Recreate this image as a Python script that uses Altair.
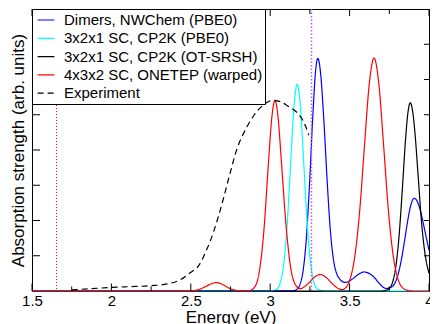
import altair as alt
import pandas as pd

# ---------------- data ----------------
series_names = [
    "Dimers, NWChem (PBE0)",
    "3x2x1 SC, CP2K (PBE0)",
    "3x2x1 SC, CP2K (OT-SRSH)",
    "4x3x2 SC, ONETEP (warped)",
    "Experiment",
]
series_colors = ["#0000ff", "#00ffff", "#000000", "#ff0000", "#000000"]
series_dashes = [[1, 0], [1, 0], [1, 0], [1, 0], [6, 4]]

dimers_x = [1.50, 3.138, 3.168, 3.188, 3.208, 3.228, 3.248, 3.268, 3.288, 3.300, 3.318,
            3.338, 3.358, 3.378, 3.398, 3.418, 3.438, 3.458, 3.475, 3.505, 3.535, 3.565,
            3.592, 3.622, 3.652, 3.682, 3.705, 3.730, 3.750, 3.767, 3.787, 3.807, 3.827,
            3.847, 3.867, 3.887, 3.907, 3.932, 3.952, 3.972, 4.0]
dimers_y = [0, 0.004, 0.047, 0.19, 0.60, 1.52, 3.07, 4.94, 6.34, 6.60, 6.15,
            4.83, 3.18, 1.76, 0.90, 0.50, 0.34, 0.26, 0.245, 0.30, 0.40, 0.50,
            0.54, 0.50, 0.40, 0.24, 0.13, 0.07, 0.09, 0.12, 0.24, 0.50, 0.91,
            1.45, 2.02, 2.46, 2.63, 2.48, 2.17, 1.75, 1.15]

pbe0_x = [1.50, 2.99, 3.039, 3.069, 3.089, 3.109, 3.129, 3.149, 3.170, 3.189, 3.209,
          3.229, 3.249, 3.269, 3.299, 3.34, 4.0]
pbe0_y = [0, 0, 0.045, 0.33, 0.91, 2.04, 3.65, 5.18, 5.87, 5.30, 3.82,
          2.19, 1.00, 0.36, 0.05, 0, 0]

srsh_x = [1.50, 3.70, 3.722, 3.752, 3.772, 3.792, 3.812, 3.832, 3.852, 3.867, 3.882,
          3.897, 3.912, 3.932, 3.952, 3.972, 4.0]
srsh_y = [0, 0, 0.01, 0.08, 0.27, 0.72, 1.59, 2.88, 4.28, 5.05, 5.34,
          5.10, 4.46, 3.24, 2.0, 1.15, 0.5]

onetep_x = [1.50, 2.44, 2.49, 2.54, 2.59, 2.627, 2.66, 2.694, 2.744, 2.794, 2.84, 2.87,
            2.90, 2.93, 2.96, 2.99, 3.01, 3.03, 3.05, 3.07, 3.10, 3.13, 3.16, 3.19,
            3.218, 3.248, 3.278, 3.315, 3.348, 3.388, 3.425, 3.455, 3.485, 3.504, 3.534,
            3.564, 3.594, 3.624, 3.654, 3.684, 3.714, 3.744, 3.774, 3.804, 3.834, 3.864,
            3.90, 4.0]
onetep_y = [0, 0, 0.003, 0.026, 0.117, 0.20, 0.24, 0.198, 0.075, 0.012, 0.002, 0.013,
            0.10, 0.51, 1.70, 3.70, 4.91, 5.40, 4.91, 3.70, 1.85, 0.63, 0.17, 0.065,
            0.13, 0.25, 0.39, 0.47, 0.40, 0.22, 0.08, 0.04, 0.15, 0.35, 1.02,
            2.30, 4.14, 5.88, 6.61, 5.88, 4.14, 2.30, 1.02, 0.35, 0.09, 0.02,
            0, 0]

exp_x = [1.75, 1.85, 2.0, 2.1, 2.25, 2.35, 2.43, 2.50, 2.55, 2.595, 2.645, 2.695,
         2.745, 2.792, 2.847, 2.90, 2.95, 3.02, 3.07, 3.11, 3.16, 3.198, 3.225, 3.243]
exp_y = [0.03, 0.06, 0.10, 0.12, 0.15, 0.20, 0.31, 0.53, 0.72, 1.12, 1.70, 2.45,
         3.30, 4.05, 4.60, 5.00, 5.25, 5.41, 5.36, 5.25, 5.10, 4.90, 4.65, 4.42]

vline_red_x = [1.654]
vline_purple_x = [3.26]

x_major_ticks = [1.5, 2.0, 2.5, 3.0, 3.5, 4.0]
x_minor_ticks = [1.75, 2.25, 2.75, 3.25, 3.75]
y_ticks = [1, 2, 3, 4, 5, 6, 7]

# ---------------- build tables ----------------
series_xy = [(dimers_x, dimers_y), (pbe0_x, pbe0_y), (srsh_x, srsh_y),
             (onetep_x, onetep_y), (exp_x, exp_y)]
frames = []
for name, (xs, ys) in zip(series_names, series_xy):
    frames.append(pd.DataFrame({"series": name, "energy": xs, "absorption": ys}))
curve_df = pd.concat(frames, ignore_index=True)

W, H = 397, 282
FONT = "Liberation Sans"

legend = alt.Legend(
    orient="none", legendX=0, legendY=0, title=None,
    symbolType="stroke", symbolSize=280, symbolStrokeWidth=1.2,
    labelFontSize=15, labelFont=FONT, labelColor="black", labelLimit=400,
    labelOffset=9, strokeColor="black", fillColor="white",
    padding=2, symbolOffset=3, rowPadding=1.3,
)

x_enc = alt.X("energy:Q",
              scale=alt.Scale(domain=[1.5, 4], nice=False, zero=False),
              axis=alt.Axis(values=x_major_ticks, format="~g", tickSize=0, domain=False,
                            grid=False, labelFontSize=15, labelFont=FONT,
                            labelColor="black", labelPadding=2.5, labelFlush=False,
                            title="Energy (eV)", titleFontSize=17, titleFont=FONT,
                            titleFontWeight="normal", titleColor="black",
                            titlePadding=1))
y_enc = alt.Y("absorption:Q",
              scale=alt.Scale(domain=[0, 8], nice=False, zero=False),
              axis=alt.Axis(labels=False, ticks=False, domain=False, grid=False,
                            title="Absorption strength (arb. units)",
                            titleFontSize=17, titleFont=FONT, titleFontWeight="normal",
                            titleColor="black", titlePadding=5))

curves = alt.Chart(curve_df).mark_line(interpolate="monotone", strokeWidth=1.2).encode(
    x=x_enc,
    y=y_enc,
    color=alt.Color("series:N", scale=alt.Scale(domain=series_names, range=series_colors),
                    legend=legend),
    strokeDash=alt.StrokeDash("series:N",
                              scale=alt.Scale(domain=series_names, range=series_dashes),
                              legend=legend),
)

vred = alt.Chart(pd.DataFrame({"energy": vline_red_x})).mark_rule(
    color="#ff0000", strokeDash=[1, 2], strokeWidth=1).encode(x="energy:Q")
vpurple = alt.Chart(pd.DataFrame({"energy": vline_purple_x})).mark_rule(
    color="#b060e0", strokeDash=[1.5, 2], strokeWidth=1.5).encode(x="energy:Q")

maj = pd.DataFrame({"energy": x_major_ticks})
mnr = pd.DataFrame({"energy": x_minor_ticks})
yt = pd.DataFrame({"absorption": y_ticks})

tick_bottom_major = alt.Chart(maj).mark_rule(color="black").encode(
    x="energy:Q", y=alt.value(H), y2=alt.value(H - 7.5))
tick_bottom_minor = alt.Chart(mnr).mark_rule(color="black").encode(
    x="energy:Q", y=alt.value(H), y2=alt.value(H - 4.5))
tick_top_major = alt.Chart(maj).mark_rule(color="black").encode(
    x="energy:Q", y=alt.value(0), y2=alt.value(7))
tick_top_minor = alt.Chart(mnr).mark_rule(color="black").encode(
    x="energy:Q", y=alt.value(0), y2=alt.value(5))
tick_left = alt.Chart(yt).mark_rule(color="black").encode(
    y="absorption:Q", x=alt.value(0), x2=alt.value(8))
tick_right = alt.Chart(yt).mark_rule(color="black").encode(
    y="absorption:Q", x=alt.value(W), x2=alt.value(W - 5))

chart = alt.layer(
    curves, vred, vpurple,
    tick_bottom_major, tick_bottom_minor, tick_top_major, tick_top_minor,
    tick_left, tick_right,
).properties(
    width=W, height=H,
    padding={"left": 24, "top": 1, "right": 1, "bottom": 33},
    autosize="none",
).configure(font=FONT).configure_view(stroke="black", strokeWidth=1)

chart.save("out.html", embed_options={"renderer": "svg", "actions": False})
